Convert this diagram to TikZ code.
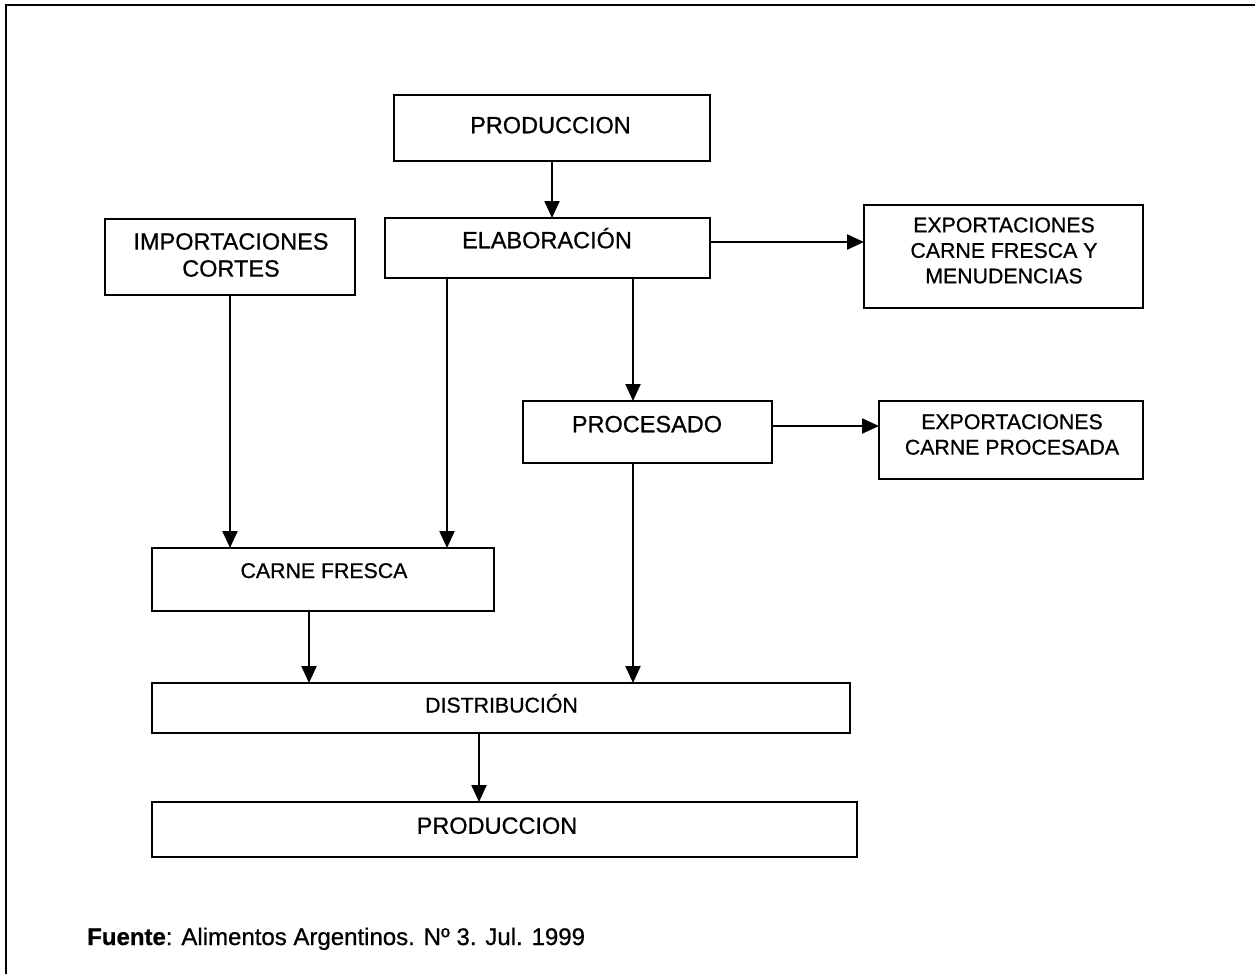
\documentclass[tikz,border=0pt]{standalone}
\usepackage{fontspec}
\setmainfont{Liberation Sans}
\newfontfamily\boxfont[FakeBold=0.7]{Liberation Sans}
\usetikzlibrary{arrows.meta}
\begin{document}
\begin{tikzpicture}[x=1pt,y=-1pt,
  box/.style={draw, line width=2.2pt, inner sep=0pt, outer sep=0pt},
  txtbig/.style={inner sep=0pt, align=center, font=\boxfont\fontsize{23.5}{27}\selectfont},
  txtsm/.style={inner sep=0pt, align=center, font=\boxfont\fontsize{21.3}{25.5}\selectfont},
  onebig/.style={text height=16.5pt, text depth=0pt},
  onesm/.style={text height=15pt, text depth=0pt},
  arr/.style={line width=2.2pt, -{Triangle[length=17pt,width=15pt]}},
  frameline/.style={line width=2pt}]
\fill[white] (0,0) rectangle (1255,974);
\useasboundingbox (0,0) rectangle (1255,974);
\draw[frameline] (6,974) -- (6,5) -- (1255,5);

% boxes
\node[box, minimum width=316pt, minimum height=66pt]  (prod)  at (552,128) {};
\node[box, minimum width=325pt, minimum height=60pt]  (elab)  at (547.5,248) {};
\node[box, minimum width=250pt, minimum height=76pt]  (imp)   at (230,257) {};
\node[box, minimum width=279pt, minimum height=103pt] (exp1)  at (1003.5,256.5) {};
\node[box, minimum width=249pt, minimum height=62pt]  (proc)  at (647.5,432) {};
\node[box, minimum width=264pt, minimum height=78pt]  (exp2)  at (1011,440) {};
\node[box, minimum width=342pt, minimum height=63pt]  (cf)    at (323,579.5) {};
\node[box, minimum width=698pt, minimum height=50pt]  (dist)  at (501,708) {};
\node[box, minimum width=705pt, minimum height=55pt]  (prod2) at (504.5,829.5) {};

% texts
\node[txtbig, onebig] (prodT)  at (550.5,125) {PRODUCCION};
\node[txtbig, onebig] (elabT)  at (547,240) {ELABORACIÓN};
\node[txtbig]         (impT)   at (231,255) {IMPORTACIONES\\CORTES};
\node[txtsm]          (exp1T)  at (1004,250.5) {EXPORTACIONES\\CARNE FRESCA Y\\MENUDENCIAS};
\node[txtbig, onebig] (procT)  at (647,424) {PROCESADO};
\node[txtsm]          (exp2T)  at (1012,434.5) {EXPORTACIONES\\CARNE PROCESADA};
\node[txtsm, onesm]   (cfT)    at (324,570.5) {CARNE FRESCA};
\node[txtsm, onesm]   (distT)  at (501.5,705) {DISTRIBUCIÓN};
\node[txtbig, onebig] (prod2T) at (497,825.5) {PRODUCCION};
\node[anchor=base west, inner sep=0pt, font=\boxfont\fontsize{24}{28}\selectfont] (src) at (87,945)
  {\textbf{Fuente}: Alimentos Argentinos. Nº 3. Jul. 1999};

% connector start points
\coordinate (e1) at ([yshift=6pt]elab.east);
\coordinate (e2) at ([yshift=6pt]proc.east);
\coordinate (d1) at ([xshift=-100.5pt]elab.south);
\coordinate (d2) at ([xshift=85.5pt]elab.south);
\coordinate (d3) at ([xshift=-14.5pt]proc.south);
\coordinate (d4) at ([xshift=-14pt]cf.south);
\coordinate (d5) at ([xshift=-22pt]dist.south);

% connectors
\draw[arr] (prod.south) -- (prod.south |- elab.north);
\draw[arr] (e1) -- (e1 -| exp1.west);
\draw[arr] (e2) -- (e2 -| exp2.west);
\draw[arr] (imp.south) -- (imp.south |- cf.north);
\draw[arr] (d1) -- (d1 |- cf.north);
\draw[arr] (d2) -- (d2 |- proc.north);
\draw[arr] (d3) -- (d3 |- dist.north);
\draw[arr] (d4) -- (d4 |- dist.north);
\draw[arr] (d5) -- (d5 |- prod2.north);
\end{tikzpicture}
\end{document}
